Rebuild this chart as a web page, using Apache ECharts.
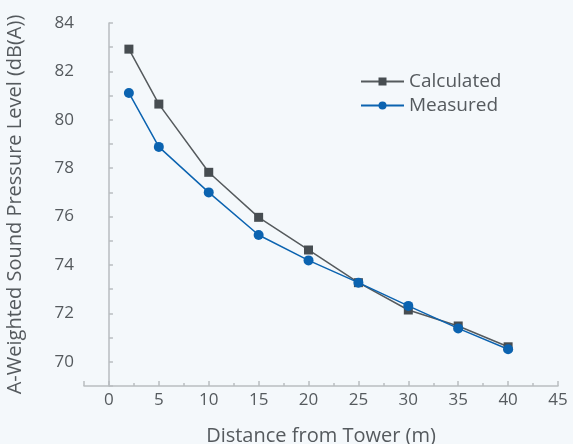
<!DOCTYPE html>
<html><head><meta charset="utf-8">
<script src="https://cdn.jsdelivr.net/npm/echarts@6/dist/echarts.min.js"></script>
<style>html,body{margin:0;padding:0;background:#f4f8fb;}#c{width:573px;height:444px;}</style>
</head><body><div id="c"></div>
<script>
const distances = [2, 5, 10, 15, 20, 25, 30, 35, 40];
const calculated = [82.92, 80.65, 77.83, 75.97, 74.62, 73.27, 72.14, 71.48, 70.62];
const measured = [81.11, 78.88, 77.0, 75.24, 74.19, 73.27, 72.31, 71.38, 70.52];
const seriesNames = ['Calculated', 'Measured'];
const xAxisName = 'Distance from Tower (m)';
const yAxisName = 'A-Weighted Sound Pressure Level (dB(A))';

const font = '"Open Sans", Lato, sans-serif';
const textColor = '#555a5e';
const axisColor = '#b9bdc1';

const chart = echarts.init(document.getElementById('c'));
chart.setOption({
  backgroundColor: '#f4f8fb',
  animation: false,
  textStyle: {fontFamily: font},
  grid: {left: 84, right: 15, top: 23, bottom: 58, outerBoundsMode: 'none', containLabel: false},
  legend: {
    left: 360, top: 72, orient: 'vertical', padding: 0,
    itemWidth: 43, itemHeight: 10, itemGap: 5,
    textStyle: {fontFamily: font, fontSize: 19, color: textColor, lineHeight: 19, padding: [0,0,0,0]},
    data: seriesNames
  },
  xAxis: [{
    type: 'value', position: 'bottom', min: -2.5, max: 45, interval: 2.5,
    name: xAxisName, nameLocation: 'middle', nameGap: 40,
    nameTextStyle: {fontFamily: font, fontSize: 20, color: textColor},
    axisLine: {show: true, lineStyle: {color: axisColor, width: 1.5}},
    axisTick: {show: true, inside: true, length: 3, lineStyle: {color: axisColor, width: 1.5}},
    axisLabel: {fontFamily: font, fontSize: 17, color: textColor, margin: 6,
      formatter: v => (Math.abs(v % 5) < 1e-9 ? String(v) : '')},
    splitLine: {show: false}
  }, {
    type: 'value', position: 'bottom', min: -2.5, max: 45, splitNumber: 10,
    axisLine: {show: false},
    axisTick: {show: true, inside: true, length: 5, lineStyle: {color: axisColor, width: 1.5}},
    axisLabel: {show: false},
    splitLine: {show: false}
  }],
  yAxis: {
    type: 'value', min: 69, max: 84, interval: 1,
    name: yAxisName, nameLocation: 'middle', nameGap: 59,
    nameTextStyle: {fontFamily: font, fontSize: 20, color: textColor},
    axisLine: {show: true, lineStyle: {color: axisColor, width: 1.5}},
    axisTick: {show: true, inside: true, length: 4, lineStyle: {color: axisColor, width: 1.5}},
    axisLabel: {fontFamily: font, fontSize: 17, color: textColor, margin: 10,
      formatter: v => (v % 2 === 0 ? String(v) : '')},
    splitLine: {show: false}
  },
  series: [{
    name: seriesNames[0], type: 'line', xAxisIndex: 0,
    data: distances.map((d, i) => [d, calculated[i]]),
    symbol: 'rect', symbolSize: 9,
    lineStyle: {color: '#555a5d', width: 1.5},
    itemStyle: {color: '#474d51'}
  }, {
    name: seriesNames[1], type: 'line', xAxisIndex: 0,
    data: distances.map((d, i) => [d, measured[i]]),
    symbol: 'circle', symbolSize: 10,
    lineStyle: {color: '#0b63b0', width: 1.5},
    itemStyle: {color: '#0b63b0'}
  }]
});
</script></body></html>
